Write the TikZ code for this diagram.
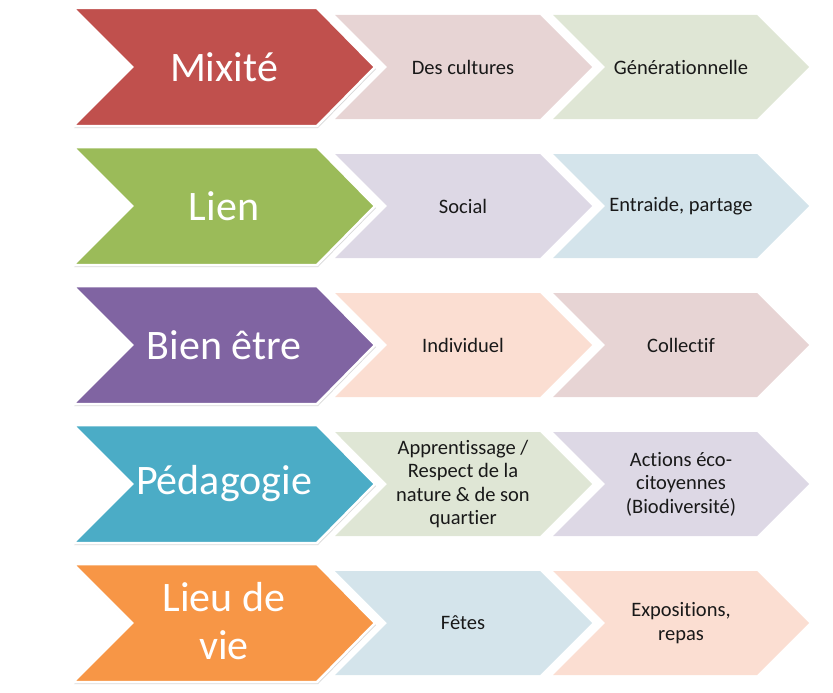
\documentclass[tikz,border=0pt]{standalone}
\usepackage{fontspec}
\setmainfont[Ligatures=NoCommon]{Carlito}
\usepackage{tikz}
\usetikzlibrary{shadows}

\definecolor{mixred}{HTML}{C0504D}
\definecolor{liengreen}{HTML}{9BBB59}
\definecolor{bienpurple}{HTML}{8064A2}
\definecolor{pedablue}{HTML}{4BACC6}
\definecolor{lieuorange}{HTML}{F79646}
\definecolor{tintred}{HTML}{E7D4D4}
\definecolor{tintgreen}{HTML}{DFE6D5}
\definecolor{tintpurple}{HTML}{DDD8E5}
\definecolor{tintblue}{HTML}{D4E4EB}
\definecolor{tintorange}{HTML}{FBDED2}

\tikzset{
  bigchev/.style={fill=#1, draw=white, line width=2.5pt, line join=miter,
    drop shadow={shadow xshift=1pt, shadow yshift=-2pt, opacity=0.3}},
  smallchev/.style={fill=#1, draw=none},
  bigtext/.style={text=white, font=\fontsize{42}{48}\selectfont, align=center},
  smalltext/.style={text=black!90, font=\fontsize{20.5}{23.5}\selectfont, align=center}
}

\begin{document}
\begin{tikzpicture}[x=1pt, y=-1pt]
          \useasboundingbox (0,0) rectangle (833,693);

          % Mixité
          \draw [smallchev=tintgreen] (553,15) -- ++(204,0) -- ++(52,52) -- ++(-52,52) -- ++(-204,0) -- ++(52,-52) -- cycle; % Draws a chevron
          \draw [smallchev=tintred] (335,15) -- ++(205,0) -- ++(52,52) -- ++(-52,52) -- ++(-205,0) -- ++(52,-52) -- cycle; % Draws a chevron
          \draw [bigchev=mixred] (73,8) -- ++(244,0) -- ++(58,59) -- ++(-58,59) -- ++(-244,0) -- ++(59,-59) -- cycle; % Draws a chevron
          \node [bigtext] (mixite) at (224,67) {Mixité};
          \node [smalltext] (cultures) at (463,67) {Des cultures};
          \node [smalltext] (generation) at (681,67) {Générationnelle};

          % Lien
          \draw [smallchev=tintblue] (553,154) -- ++(204,0) -- ++(52,52) -- ++(-52,52) -- ++(-204,0) -- ++(52,-52) -- cycle; % Draws a chevron
          \draw [smallchev=tintpurple] (335,154) -- ++(205,0) -- ++(52,52) -- ++(-52,52) -- ++(-205,0) -- ++(52,-52) -- cycle; % Draws a chevron
          \draw [bigchev=liengreen] (73,147) -- ++(244,0) -- ++(58,59) -- ++(-58,59) -- ++(-244,0) -- ++(59,-59) -- cycle; % Draws a chevron
          \node [bigtext] (lien) at (224,206) {Lien};
          \node [smalltext] (social) at (463,206) {Social};
          \node [smalltext] (entraide) at (681,206) {Entraide, partage};

          % Bien être
          \draw [smallchev=tintred] (553,293) -- ++(204,0) -- ++(52,52) -- ++(-52,52) -- ++(-204,0) -- ++(52,-52) -- cycle; % Draws a chevron
          \draw [smallchev=tintorange] (335,293) -- ++(205,0) -- ++(52,52) -- ++(-52,52) -- ++(-205,0) -- ++(52,-52) -- cycle; % Draws a chevron
          \draw [bigchev=bienpurple] (73,286) -- ++(244,0) -- ++(58,59) -- ++(-58,59) -- ++(-244,0) -- ++(59,-59) -- cycle; % Draws a chevron
          \node [bigtext] (bienetre) at (224,345) {Bien être};
          \node [smalltext] (individuel) at (463,345) {Individuel};
          \node [smalltext] (collectif) at (681,345) {Collectif};

          % Pédagogie
          \draw [smallchev=tintpurple] (553,432) -- ++(204,0) -- ++(52,52) -- ++(-52,52) -- ++(-204,0) -- ++(52,-52) -- cycle; % Draws a chevron
          \draw [smallchev=tintgreen] (335,432) -- ++(205,0) -- ++(52,52) -- ++(-52,52) -- ++(-205,0) -- ++(52,-52) -- cycle; % Draws a chevron
          \draw [bigchev=pedablue] (73,425) -- ++(244,0) -- ++(58,59) -- ++(-58,59) -- ++(-244,0) -- ++(59,-59) -- cycle; % Draws a chevron
          \node [bigtext] (pedagogie) at (224,484) {Pédagogie};
          \node [smalltext] (apprentissage) at (463,484) {Apprentissage /\\Respect de la\\nature \& de son\\quartier};
          \node [smalltext] (actions) at (681,484) {Actions éco-\\citoyennes\\(Biodiversité)};

          % Lieu de vie
          \draw [smallchev=tintorange] (553,571) -- ++(204,0) -- ++(52,52) -- ++(-52,52) -- ++(-204,0) -- ++(52,-52) -- cycle; % Draws a chevron
          \draw [smallchev=tintblue] (335,571) -- ++(205,0) -- ++(52,52) -- ++(-52,52) -- ++(-205,0) -- ++(52,-52) -- cycle; % Draws a chevron
          \draw [bigchev=lieuorange] (73,564) -- ++(244,0) -- ++(58,59) -- ++(-58,59) -- ++(-244,0) -- ++(59,-59) -- cycle; % Draws a chevron
          \node [bigtext] (lieu) at (224,621) {Lieu de\\vie};
          \node [smalltext] (fetes) at (463,623) {Fêtes};
          \node [smalltext] (expositions) at (681,623) {Expositions,\\repas};
        \end{tikzpicture}
\end{document}
